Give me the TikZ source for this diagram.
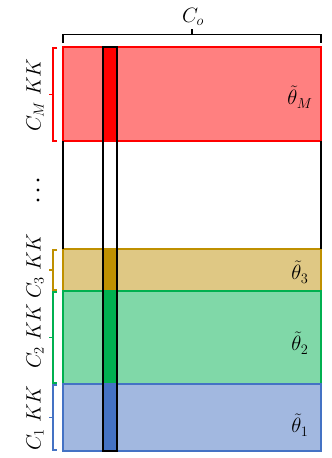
\documentclass[tikz,border=0pt]{standalone}
\usepackage{amsmath}
\begin{document}
\begin{tikzpicture}[x=1pt,y=-1pt,
  band/.style={draw=#1, line width=1.2pt},
  colbox/.style={draw=black, line width=1.2pt},
  brk/.style={draw=#1, line width=1.5pt},
  lbl/.style={font=\fontsize{22}{26}\selectfont, inner sep=0pt},
  sidelbl/.style={font=\fontsize{22}{26}\selectfont, inner sep=0pt, rotate=90}]
\useasboundingbox (0,0) rectangle (332,458);
\definecolor{redL}{HTML}{FF8080}
\definecolor{redD}{HTML}{FF0000}
\definecolor{goldL}{HTML}{DFC884}
\definecolor{goldD}{HTML}{BF9000}
\definecolor{greenL}{HTML}{80D8A8}
\definecolor{greenD}{HTML}{00B050}
\definecolor{blueL}{HTML}{A2B8E0}
\definecolor{blueD}{HTML}{4472C4}
% bands
\fill[redL] (63,47) rectangle (321,141);
\fill[redD] (103,47) rectangle (117,141);
\draw[band=redD] (63,47) rectangle (321,141);
\fill[goldL] (63,249) rectangle (321,291);
\fill[goldD] (103,249) rectangle (117,291);
\draw[band=goldD] (63,249) rectangle (321,291);
\fill[greenL] (63,291) rectangle (321,384);
\fill[greenD] (103,291) rectangle (117,384);
\draw[band=greenD] (63,291) rectangle (321,384);
\fill[blueL] (63,384) rectangle (321,451);
\fill[blueD] (103,384) rectangle (117,451);
\draw[band=blueD] (63,384) rectangle (321,451);
% outline in the white gap
\draw[colbox] (63,141) -- (63,249) (321,141) -- (321,249);
% column outline
\draw[colbox] (103,47) rectangle (117,451);
% top bracket
\draw[brk=black] (63,43) -- (63,34.5) -- (321,34.5) -- (321,43);
\draw[brk=black] (192,34.5) -- (192,29);
\node[lbl] (co) at (193,17) {$C_o$};
% left brackets
\foreach \ya/\yb/\cc in {48/141/redD, 250/290/goldD, 292/383/greenD, 385/450/blueD}{
  \draw[brk=\cc] (57,\ya) -- (53,\ya) -- (53,\yb) -- (57,\yb);
  \draw[brk=\cc] (53,{(\ya+\yb)/2}) -- (49,{(\ya+\yb)/2});
}
\node[sidelbl] (lm) at (35,95) {$C_M\;KK$};
\node[sidelbl] (l3) at (35,266) {$C_3\;KK$};
\node[sidelbl] (l2) at (35,336) {$C_2\;KK$};
\node[sidelbl] (l1) at (35,418) {$C_1\;KK$};
% vertical dots
\foreach \yy in {180,190,200} \fill (38,\yy) circle (1.7);
% theta labels
\node[lbl] (tm) at (300,97) {$\tilde{\theta}_M$};
\node[lbl] (t3) at (300,272) {$\tilde{\theta}_3$};
\node[lbl] (t2) at (300,343) {$\tilde{\theta}_2$};
\node[lbl] (t1) at (300,425) {$\tilde{\theta}_1$};
\end{tikzpicture}
\end{document}
